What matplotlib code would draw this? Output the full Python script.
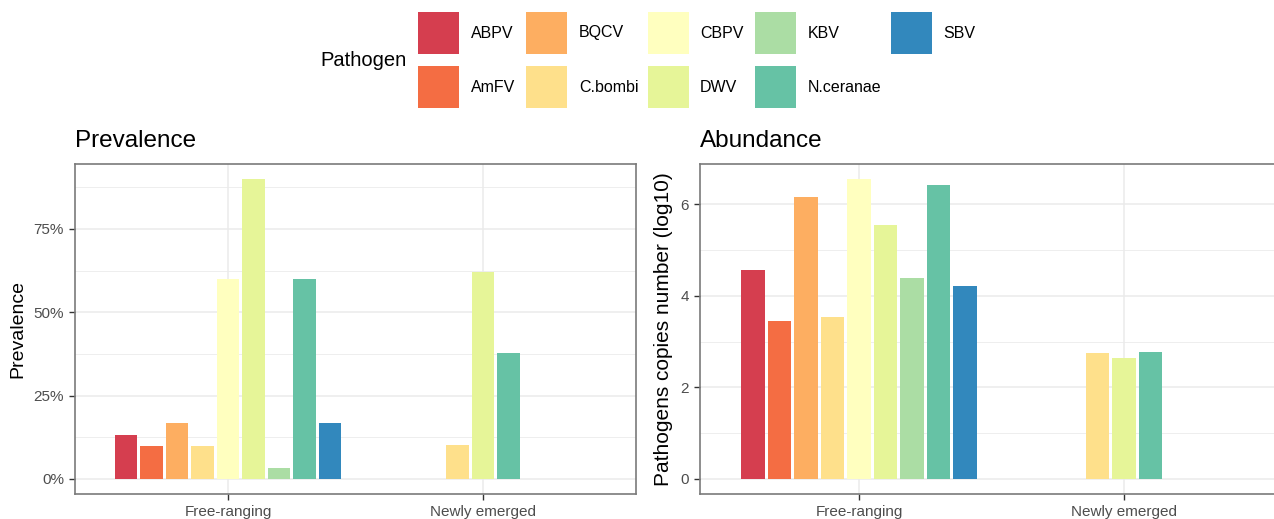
import matplotlib.pyplot as plt
from matplotlib.patches import Rectangle
from matplotlib.ticker import FuncFormatter, MultipleLocator

plt.rcParams['font.family'] = ['Liberation Sans', 'DejaVu Sans']

pathogens = ['ABPV', 'AmFV', 'BQCV', 'C.bombi', 'CBPV', 'DWV', 'KBV', 'N.ceranae', 'SBV']
colors = ['#D53E4F', '#F46D43', '#FDAE61', '#FEE08B', '#FFFFBF',
          '#E6F598', '#ABDDA4', '#66C2A5', '#3288BD']
groups = ['Free-ranging', 'Newly emerged']

# None = pathogen not detected in that group
prevalence_free = [0.133, 0.10, 0.167, 0.10, 0.60, 0.90, 0.033, 0.60, 0.167]
prevalence_new = [None, None, None, 0.103, None, 0.621, None, 0.379, None]
abundance_free = [4.56, 3.46, 6.16, 3.53, 6.55, 5.54, 4.38, 6.42, 4.22]
abundance_new = [None, None, None, 2.75, None, 2.64, None, 2.78, None]

W, H = 1274, 519
fig = plt.figure(figsize=(W / 100, H / 100), dpi=100)


def px_axes(x0, y0, x1, y1):
    return fig.add_axes([x0 / W, 1 - y1 / H, (x1 - x0) / W, (y1 - y0) / H])


def draw_group(ax, center, values):
    present = [i for i, v in enumerate(values) if v is not None]
    n = len(present)
    for k, i in enumerate(present):
        x = center + (k - (n - 1) / 2) * 0.1
        ax.bar(x, values[i], width=0.09, color=colors[i], zorder=3)


def style(ax, ymin, ymax, major, ylabel, ysize):
    ax.set_xlim(0.4, 2.6)
    ax.set_ylim(ymin, ymax)
    ax.set_xticks([1, 2])
    ax.set_xticklabels(groups)
    ax.yaxis.set_major_locator(MultipleLocator(major))
    ax.yaxis.set_minor_locator(MultipleLocator(major / 2))
    ax.grid(which='major', color='#EBEBEB', linewidth=1.1, zorder=0)
    ax.grid(which='minor', axis='y', color='#EBEBEB', linewidth=0.6, zorder=0)
    ax.tick_params(which='minor', length=0)
    ax.tick_params(which='major', length=4, width=1, color='#333333',
                   labelcolor='#4D4D4D', labelsize=11, pad=4)
    for s in ax.spines.values():
        s.set_color('#7A7A7A')
        s.set_linewidth(1.2)
    ax.set_ylabel(ylabel, fontsize=ysize, color='black', labelpad=5)
    ax.set_axisbelow(True)


# prevalence panel
ax1 = px_axes(75, 164, 636, 494)
draw_group(ax1, 1, prevalence_free)
draw_group(ax1, 2, prevalence_new)
style(ax1, -0.045, 0.945, 0.25, 'Prevalence', 14)
ax1.yaxis.set_major_formatter(FuncFormatter(lambda v, _: f'{v * 100:.0f}%'))
ax1.set_title('Prevalence', loc='left', fontsize=17.5, pad=12)

# abundance panel (runs past the right edge of the figure)
ax2 = px_axes(700, 164, 1283, 494)
draw_group(ax2, 1, abundance_free)
draw_group(ax2, 2, abundance_new)
style(ax2, -0.3275, 6.8775, 2, 'Pathogens copies number (log10)', 15)
ax2.set_title('Abundance', loc='left', fontsize=17.5, pad=12)

# legend, two rows filled column by column
fig.text(320 / W, 1 - 61 / H, 'Pathogen', fontsize=14.5, va='center', ha='left')
key_x = [418, 526, 648, 755, 891]
label_x = [471, 579, 700, 808, 943]
row_top = [12, 66]
for i, name in enumerate(pathogens):
    col, row = divmod(i, 2)
    top = row_top[row]
    fig.patches.append(Rectangle((key_x[col] / W, 1 - (top + 42) / H), 41 / W, 42 / H,
                                 transform=fig.transFigure, facecolor=colors[i],
                                 edgecolor='none'))
    fig.text(label_x[col] / W, 1 - (top + 21) / H, name, fontsize=11.5,
             va='center', ha='left')

fig.savefig('out.png', dpi=100)
